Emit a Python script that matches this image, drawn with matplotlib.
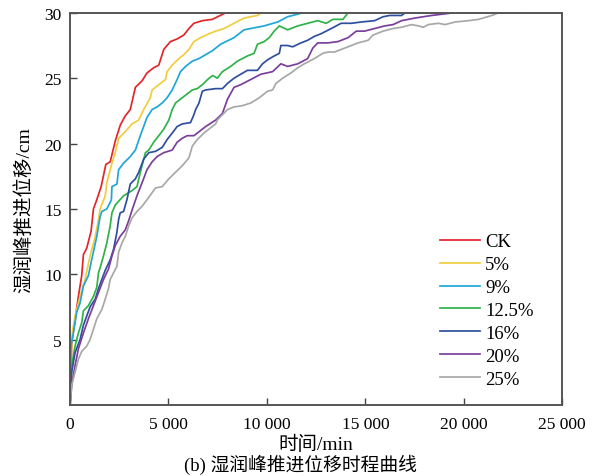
"""湿润峰推进位移时程曲线 (b)."""

import matplotlib
matplotlib.use("Agg")
import matplotlib.pyplot as plt
from matplotlib.ticker import FuncFormatter

plt.rcParams["font.family"] = ["Liberation Serif", "Noto Sans CJK SC"]
plt.rcParams["axes.unicode_minus"] = False

# ── Data (time in min, wetting front displacement in cm) ─────────────────────
labels = ["CK", "5%", "9%", "12.5%", "16%", "20%", "25%"]
colors = ["#e2262b", "#f1cd3e", "#1ea7d6", "#2fb24a", "#2f4f9e", "#7b3f9b", "#a8a8a8"]

ck_t = [0, 85, 220, 425, 595, 680, 850, 1070, 1190, 1360, 1580, 1820, 2040, 2300,
        2550, 2800, 3060, 3320, 3660, 3910, 4250, 4510, 4760, 5100, 5440, 5780,
        6040, 6290, 6720, 7230, 7900, 8670]
ck_v = [0, 4.8, 6.1, 8.3, 9.9, 11.5, 12.0, 13.3, 15.0, 15.7, 16.7, 18.4, 18.6, 20.2,
        21.4, 22.1, 22.6, 24.3, 24.8, 25.4, 25.8, 26.0, 27.2, 27.8, 28.0, 28.3,
        28.8, 29.2, 29.4, 29.5, 30, 30]

p5_t = [0, 50, 120, 255, 510, 765, 1020, 1280, 1445, 1530, 1790, 1870, 2130, 2300,
        2470, 2800, 3150, 3490, 3740, 4080, 4170, 4510, 4850, 4930, 5190, 5530,
        5780, 6040, 6290, 6630, 7060, 7400, 7820, 8330, 8840, 9520, 9700, 10550]
p5_v = [0, 3.5, 5.6, 6.8, 8.3, 9.6, 11.4, 12.9, 14.2, 15.0, 16.0, 17.0, 18.5, 19.3,
        20.4, 20.9, 21.5, 21.8, 22.6, 23.5, 24.1, 24.5, 24.9, 25.5, 26.0, 26.5,
        26.8, 27.2, 27.8, 28.1, 28.4, 28.6, 28.8, 29.2, 29.6, 29.8, 30, 30]

p9_t = [0, 50, 170, 340, 510, 680, 935, 1100, 1360, 1530, 1615, 1870, 2040, 2100,
        2130, 2380, 2470, 2720, 3060, 3320, 3570, 3740, 3910, 4170, 4420, 4680,
        4930, 5190, 5440, 5610, 5870, 6210, 6550, 6890, 7230, 7650, 8330, 8840,
        9180, 9860, 10550, 11050, 11570, 11800, 12670]
p9_v = [0, 4.5, 5.5, 7.1, 7.8, 9.1, 9.9, 11.1, 12.9, 14.4, 14.8, 15.0, 15.5, 15.7,
        16.7, 16.9, 18.0, 18.5, 19.0, 19.5, 20.6, 21.3, 22.0, 22.6, 22.8, 23.1,
        23.5, 24.1, 24.9, 25.5, 25.9, 26.3, 26.5, 26.8, 27.1, 27.6, 28.1, 28.7,
        28.8, 29.0, 29.3, 29.7, 29.9, 30, 30]

p125_t = [0, 85, 255, 425, 595, 680, 935, 1190, 1360, 1445, 1530, 1700, 1870, 2040,
          2130, 2300, 2720, 3150, 3400, 3570, 3830, 4000, 4250, 4510, 4760, 5020,
          5190, 5360, 5610, 5870, 6210, 6460, 6720, 7060, 7250, 7480, 7740, 8160,
          8500, 9010, 9350, 9520, 9860, 10120, 10370, 10630, 11050, 11570, 12070,
          12580, 13010, 13350, 13860, 14120, 14960]
p125_v = [0, 3.0, 4.5, 5.5, 6.3, 7.2, 7.6, 8.3, 9.0, 10.1, 10.5, 11.4, 12.4, 13.7,
          14.7, 15.3, 16.0, 16.4, 16.7, 17.8, 19.3, 19.5, 20.1, 20.6, 21.1, 21.8,
          22.6, 23.1, 23.4, 23.7, 24.1, 24.2, 24.5, 25.0, 25.2, 25.0, 25.5, 25.9,
          26.3, 26.7, 26.9, 27.6, 27.8, 28.1, 28.6, 29.0, 28.7, 29.0, 29.2,
          29.4, 29.2, 29.5, 29.5, 30, 30]

p16_t = [0, 85, 255, 510, 680, 850, 1020, 1280, 1445, 1615, 1790, 2040, 2210, 2380,
         2470, 2550, 2720, 2890, 3060, 3320, 3490, 3740, 4000, 4340, 4680, 4930,
         5190, 5440, 5700, 6120, 6290, 6380, 6550, 6720, 6890, 7400, 7740, 8000,
         8330, 9010, 9520, 9780, 10030, 10370, 10630, 10710, 11050, 11310, 11730,
         12070, 12410, 12750, 13270, 13770, 14290, 14800, 15470, 15900, 16240,
         16840, 17010, 18450]
p16_v = [0, 2.5, 4.0, 5.0, 6.1, 6.8, 7.5, 8.1, 8.9, 9.6, 10.3, 11.1, 11.9, 13.2,
         14.2, 14.7, 14.8, 15.7, 16.9, 17.3, 17.8, 18.8, 19.3, 19.4, 19.7, 20.3,
         20.8, 21.3, 21.5, 21.6, 22.2, 22.6, 23.1, 24.0, 24.1, 24.2, 24.2, 24.6,
         25.0, 25.6, 25.6, 26.1, 26.4, 26.7, 26.9, 27.5, 27.5, 27.4, 27.7,
         27.9, 28.2, 28.4, 28.8, 29.2, 29.2, 29.3, 29.4, 29.7, 29.8,
         29.8, 30, 30]

p20_t = [0, 85, 255, 425, 680, 935, 1190, 1445, 1700, 1955, 2130, 2300, 2550, 2810,
         2980, 3150, 3400, 3660, 3910, 4170, 4420, 4760, 5190, 5440, 5700, 5950,
         6290, 6550, 6890, 7400, 7740, 8000, 8330, 8670, 9180, 9690, 10290, 10710,
         11050, 11570, 12070, 12330, 12580, 13100, 13610, 14120, 14540, 14960,
         15470, 15990, 16410, 16840, 17520, 18370, 19470, 21430]
p20_v = [0, 1.5, 3.0, 4.3, 5.5, 6.6, 7.6, 8.6, 9.6, 10.4, 11.4, 12.2, 12.9, 13.4,
         14.1, 14.9, 16.0, 17.0, 18.0, 18.6, 19.0, 19.3, 19.5, 20.1, 20.4, 20.6,
         20.6, 20.9, 21.3, 21.8, 22.3, 23.4, 24.3, 24.5, 24.9, 25.3, 25.5, 26.1,
         25.9, 26.1, 26.5, 27.3, 27.7, 27.7, 27.8, 28.1, 28.6, 28.6,
         28.8, 29.0, 29.1, 29.4, 29.6, 29.8, 30, 30]

p25_t = [0, 85, 255, 425, 595, 850, 1020, 1190, 1360, 1615, 1790, 1955, 2040, 2210,
         2380, 2470, 2640, 2810, 2980, 3150, 3400, 3660, 3910, 4340, 4680, 5020,
         5360, 5700, 6040, 6210, 6460, 6800, 7140, 7400, 7480, 8000, 8330, 8760,
         9180, 9610, 10030, 10290, 10460, 10800, 11220, 11570, 11900, 12410, 12840,
         13100, 13430, 13950, 14630, 15140, 15390, 15900, 16410, 16840, 17350,
         17690, 17940, 18200, 18710, 19050, 19560, 20240, 20750, 21430, 21770, 23130]
p25_v = [0, 1.5, 2.5, 3.5, 4.1, 4.5, 5.0, 5.8, 6.6, 7.3, 8.1, 8.9, 9.6, 10.1,
         10.6, 11.7, 12.4, 12.9, 13.7, 14.3, 14.8, 15.2, 15.7, 16.6, 16.7, 17.3,
         17.8, 18.3, 18.9, 19.8, 20.3, 20.8, 21.2, 21.5, 21.8, 22.6, 22.8, 22.9,
         23.1, 23.5, 24.0, 24.1, 24.6, 25.0, 25.4, 25.8, 26.1, 26.5, 26.9,
         27.0, 27.0, 27.3, 27.7, 27.9, 28.3, 28.6, 28.8, 28.9, 29.1,
         29.0, 28.9, 29.1, 29.2, 29.1, 29.3, 29.4, 29.5, 29.8, 30, 30]

times = [ck_t, p5_t, p9_t, p125_t, p16_t, p20_t, p25_t]
values = [ck_v, p5_v, p9_v, p125_v, p16_v, p20_v, p25_v]

# ── Plot ──────────────────────────────────────────────────────────────────────
fig = plt.figure(figsize=(6.01, 4.77), dpi=100)
ax = fig.add_axes([0.1165, 0.149, 0.819, 0.822])

for t, v, c, lab in zip(times, values, colors, labels):
    ax.plot(t, v, color=c, lw=1.25, label=lab)

ax.set_xlim(0, 25000)
ax.set_ylim(0, 30)
ax.set_xticks([0, 5000, 10000, 15000, 20000, 25000])
ax.set_yticks([5, 10, 15, 20, 25, 30])
ax.xaxis.set_major_formatter(FuncFormatter(lambda x, _: f"{int(x):,}".replace(",", " ")))
ax.tick_params(direction="in", length=5, width=1.0, color="#444444", labelsize=12.5)
ax.tick_params(axis="x", pad=8)
ax.tick_params(axis="y", pad=6)

for s in ax.spines.values():
    s.set_color("#555555")
    s.set_linewidth(1.4)

ax.set_ylabel("湿润峰推进位移/cm", fontsize=14, labelpad=8)
ax.set_xlabel("时间/min", fontsize=14, labelpad=2)
fig.text(0.5, 0.025, "(b) 湿润峰推进位移时程曲线", ha="center", va="center", fontsize=13.5)

ax.legend(loc="upper left", bbox_to_anchor=(0.72, 0.525), bbox_transform=fig.transFigure,
          frameon=False, fontsize=13.5, handlelength=2.1, handletextpad=0.3,
          labelspacing=0.31, borderaxespad=0)

fig.savefig("out.png", dpi=100)
plt.close(fig)
